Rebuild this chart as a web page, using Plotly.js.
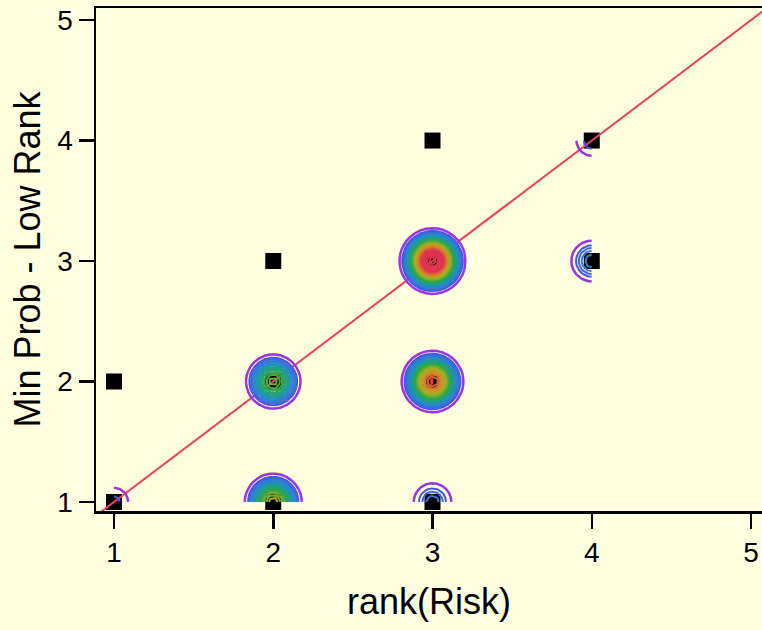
<!DOCTYPE html>
<html>
<head>
<meta charset="utf-8">
<script src="https://cdn.plot.ly/plotly-3.0.1.min.js"></script>
<style>html,body{margin:0;padding:0;background:#FFFFE0;overflow:hidden;}#chart{width:762px;height:630px;}</style>
</head>
<body>
<div id="chart"></div>
<script>
// Data: (rank(Risk), Min Prob - Low Rank) pairs and their weights (read from density blobs)
const rankRisk = [1, 1, 2, 2, 2, 3, 3, 3, 3, 4, 4];
const minProbLowRank = [1, 2, 1, 2, 3, 1, 2, 3, 4, 3, 4];
const weights = [7, 3, 19, 17, 3, 9, 24, 30, 3, 10, 7.4];
const tickValues = [1, 2, 3, 4, 5];

// density grid over the data range (drawn by the library's contour trace)
const step = 0.035;
const sx = 17.3 / 159.25, sy = 17.3 / 120.5;
const gx = [], gy = [];
for (let v = 1; v <= 4.0001; v += step) gx.push(+v.toFixed(4));
if (gx[gx.length - 1] < 4) gx.push(4);
for (let v = 1; v <= 4.0001; v += step) gy.push(+v.toFixed(4));
if (gy[gy.length - 1] < 4) gy.push(4);
const z = gy.map(yv => gx.map(xv => {
  let s = 0;
  for (let i = 0; i < rankRisk.length; i++) {
    const dx = (xv - rankRisk[i]) / sx, dy = (yv - minProbLowRank[i]) / sy;
    s += weights[i] * Math.exp(-0.5 * (dx * dx + dy * dy));
  }
  return s;
}));

const markers = {
  type: 'scatter', mode: 'markers', x: rankRisk, y: minProbLowRank,
  marker: {symbol: 'square', size: 16, color: '#000000'},
  hoverinfo: 'x+y', showlegend: false
};
const diag = {
  type: 'scatter', mode: 'lines', x: [0.5, 5.5], y: [0.5, 5.5],
  line: {color: '#EE3F5E', width: 2}, hoverinfo: 'skip', showlegend: false
};
const outer = {
  type: 'contour', x: gx, y: gy, z: z, xaxis: 'x2', yaxis: 'y2',
  autocontour: false,
  contours: {coloring: 'none', start: 5.0, end: 5.0, size: 1},
  line: {width: 2.5, color: '#9A35E0', smoothing: 0},
  showscale: false, hoverinfo: 'skip'
};
const dens = {
  type: 'contour', x: gx, y: gy, z: z, xaxis: 'x2', yaxis: 'y2',
  zmin: 6.6, zmax: 30, autocontour: false,
  contours: {coloring: 'lines', start: 6.6, end: 30, size: 0.9},
  line: {width: 2, smoothing: 0},
  colorscale: [
    [0, '#4656E2'], [0.1, '#2F7FD8'], [0.22, '#1A9AA0'],
    [0.36, '#2FA548'], [0.52, '#A6B021'], [0.66, '#D8822A'], [0.8, '#E0334F'], [1, '#E0334F']
  ],
  showscale: false, hoverinfo: 'skip'
};

const axisCommon = {
  tickvals: tickValues, ticks: 'outside', ticklen: 15, tickwidth: 2.5, tickcolor: '#000',
  showline: true, linewidth: 2.5, linecolor: '#000', showgrid: false, zeroline: false,
  tickfont: {size: 28, color: '#000'}, automargin: false
};
const xRange = [0.887, 5.069], yRange = [0.925, 5.1];
const layout = {
  width: 762, height: 630,
  paper_bgcolor: '#FFFFE0', plot_bgcolor: '#FFFFE0',
  font: {family: '"Liberation Sans", Arial, sans-serif', color: '#000'},
  margin: {l: 96, r: 0, t: 8, b: 119},
  showlegend: false,
  xaxis: Object.assign({}, axisCommon, {
    range: xRange, mirror: true,
    title: {text: 'rank(Risk)', font: {size: 36, color: '#000'}, standoff: 22}
  }),
  yaxis: Object.assign({}, axisCommon, {
    range: yRange, mirror: false,
    title: {text: 'Min Prob - Low Rank', font: {size: 36, color: '#000'}, standoff: 6}
  }),
  xaxis2: {overlaying: 'x', range: xRange, visible: false, showgrid: false, zeroline: false},
  yaxis2: {overlaying: 'y', range: yRange, visible: false, showgrid: false, zeroline: false}
};
Plotly.newPlot('chart', [markers, diag, outer, dens], layout, {displayModeBar: false, staticPlot: true});
</script>
</body>
</html>
